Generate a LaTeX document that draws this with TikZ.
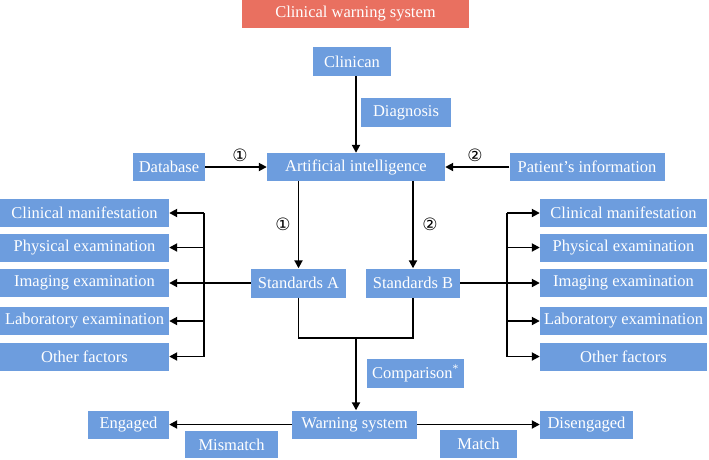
\documentclass[tikz,border=0pt]{standalone}
\usepackage{fontspec}
\setmainfont{Liberation Serif}
\newfontfamily\symfont{DejaVu Sans}
\usetikzlibrary{arrows.meta}
\definecolor{boxblue}{RGB}{109,157,222}
\definecolor{titlered}{RGB}{233,112,96}
\begin{document}
\begin{tikzpicture}[x=1pt,y=-1pt,
  box/.style={fill=boxblue, text=white, inner sep=0pt, font=\fontsize{16.5}{18}\selectfont, anchor=center},
  conn/.style={line width=1.9pt, -{Triangle[length=8pt,width=8pt]}},
  plain/.style={line width=1.9pt},
  num/.style={font=\symfont\fontsize{17}{17}\selectfont}]
\useasboundingbox (0,0) rectangle (709,459);
% title
\node[box, fill=titlered, minimum width=227pt, minimum height=28pt] (title) at (355.5,14) {Clinical warning system};
% top
\node[box, minimum width=78pt, minimum height=29pt] (clin) at (352,61.5) {Clinican};
\node[box, minimum width=90pt, minimum height=29pt] (diag) at (406,112.5) {Diagnosis};
\node[box, minimum width=72pt, minimum height=28pt] (db) at (169,167) {Database};
\node[box, minimum width=178pt, minimum height=28pt] (ai) at (356,167) {Artificial intelligence};
\node[box, minimum width=155pt, minimum height=28pt] (pat) at (587,167) {Patient’s information};
% standards
\node[box, minimum width=95pt, minimum height=29pt] (sa) at (298.5,283) {Standards A};
\node[box, minimum width=94pt, minimum height=29pt] (sb) at (413,283) {Standards B};
% left column
\node[box, minimum width=169pt, minimum height=28pt] (l1) at (84.5,213) {Clinical manifestation};
\node[box, minimum width=169pt, minimum height=28pt] (l2) at (84.5,247.5) {Physical examination};
\node[box, minimum width=169pt, minimum height=28pt] (l3) at (84.5,283) {Imaging examination};
\node[box, minimum width=169pt, minimum height=28pt] (l4) at (84.5,321) {Laboratory examination};
\node[box, minimum width=169pt, minimum height=28pt] (l5) at (84.5,356.5) {Other factors};
% right column
\node[box, minimum width=167pt, minimum height=28pt] (r1) at (623.5,213) {Clinical manifestation};
\node[box, minimum width=167pt, minimum height=28pt] (r2) at (623.5,247.5) {Physical examination};
\node[box, minimum width=167pt, minimum height=28pt] (r3) at (623.5,283) {Imaging examination};
\node[box, minimum width=167pt, minimum height=28pt] (r4) at (623.5,321) {Laboratory examination};
\node[box, minimum width=167pt, minimum height=28pt] (r5) at (623.5,356.5) {Other factors};
% bottom
\node[box, minimum width=97pt, minimum height=29pt] (comp) at (415.5,373.5) {Comparison\textsuperscript{*}};
\node[box, minimum width=125pt, minimum height=28pt] (warn) at (354.5,424.5) {Warning system};
\node[box, minimum width=81pt, minimum height=28pt] (eng) at (128.5,424.5) {Engaged};
\node[box, minimum width=93pt, minimum height=27pt] (mis) at (231.5,444.5) {Mismatch};
\node[box, minimum width=93pt, minimum height=28pt] (dis) at (586.5,424.5) {Disengaged};
\node[box, minimum width=77pt, minimum height=28pt] (match) at (478.5,444) {Match};
% numbers
\node[num] (n1) at (240,155) {①};
\node[num] (n2) at (475,155) {②};
\node[num] (n3) at (283,224) {①};
\node[num] (n4) at (430,224) {②};
% connectors
\draw[conn] (clin.south -| ai.north) -- (ai.north);
\draw[conn] (db) -- (ai);
\draw[conn] (pat) -- (ai);
\draw[conn] (ai.south -| sa.north) -- (sa.north);
\draw[conn] (ai.south -| sb.north) -- (sb.north);
% left bus
\coordinate (lb) at (204,0);
\draw[plain] (lb |- l1) -- (lb |- l5);
\draw[plain] (sa.west) -- (lb |- sa.west);
\foreach \n in {l1,l2,l3,l4,l5} \draw[conn] (lb |- \n) -- (\n.east);
% right bus
\coordinate (rb) at (507,0);
\draw[plain] (rb |- r1) -- (rb |- r5);
\draw[plain] (sb.east) -- (rb |- sb.east);
\foreach \n in {r1,r2,r3,r4,r5} \draw[conn] (rb |- \n) -- (\n.west);
% join
\coordinate (j) at (356,338);
\draw[plain] (sa.south) -- (sa.south |- j) -- (sb.south |- j) -- (sb.south);
\draw[conn] (j) -- (j |- warn.north);
\draw[conn] (warn) -- (eng);
\draw[conn] (warn) -- (dis);
\end{tikzpicture}
\end{document}
